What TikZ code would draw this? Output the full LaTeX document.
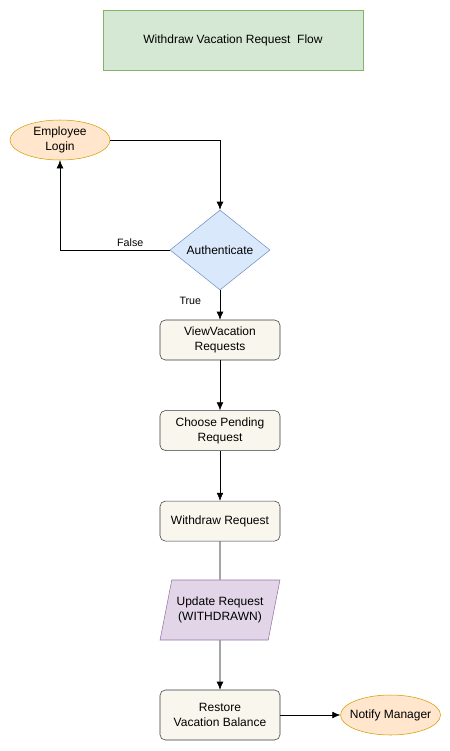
\documentclass[tikz,border=0pt]{standalone}
\usepackage{fontspec}
\setmainfont{Liberation Sans}
\usepackage{tikz}
\usetikzlibrary{shapes,arrows.meta,calc,positioning}
\definecolor{titlefill}{HTML}{D5E8D4}
\definecolor{titleline}{HTML}{82B366}
\definecolor{startfill}{HTML}{FFE6CC}
\definecolor{startline}{HTML}{D79B00}
\definecolor{decfill}{HTML}{DAE8FC}
\definecolor{decline}{HTML}{6C8EBF}
\definecolor{procfill}{HTML}{F9F7ED}
\definecolor{procline}{HTML}{36393D}
\definecolor{iofill}{HTML}{E1D5E7}
\definecolor{ioline}{HTML}{9673A6}
\tikzset{
    -{Latex[length=6pt,width=5pt]},x=0.75pt,y=-0.75pt,line width=0.75pt,
    node distance = 37.5pt and 45pt,
    font=\fontsize{9}{11.25}\selectfont,
    title/.style ={rectangle, draw=titleline, fill=titlefill, minimum width=195pt, minimum height=45pt},
    start/.style ={ellipse, draw=startline, fill=startfill, inner sep=0pt, minimum width=75pt, minimum height=30pt, align=center},
    decision/.style ={diamond, draw=decline, fill=decfill, inner sep=0pt, minimum width=75pt, minimum height=60pt},
    proc/.style ={rectangle, rounded corners=4pt, draw=procline, fill=procfill, minimum width=90pt, minimum height=30pt, align=center},
    io/.style ={trapezium, trapezium left angle=71.6, trapezium right angle=108.4, trapezium stretches=true, draw=ioline, fill=iofill, minimum width=90pt, minimum height=45pt, align=center},
    el/.style = {font=\fontsize{8}{10}\selectfont, inner sep=2pt}
}
\begin{document}
\begin{tikzpicture}
    \useasboundingbox (0,0) rectangle (450,751);
    \node[title] (0) at (233,40) {Withdraw Vacation Request\ \ Flow};
    \node[start] (1) at (60,140) {Employee\\Login};
    \node[decision] (2) at (220,250) {Authenticate};
    \node[proc] (3) at (220,340) {ViewVacation\\Requests};
    \node[proc] (4) [below = of 3] {Choose Pending\\Request};
    \node[proc] (5) [below = of 4] {Withdraw Request};
    \node[io] (6) at (220,610) {Update Request\\(WITHDRAWN)};
    \node[proc, minimum height=37.5pt] (7) at (220,715) {Restore\\Vacation Balance};
    \node[start, inner xsep=-6pt] (8) [right = of 7] {Notify Manager};

    \draw (1) -| (2);
    \draw (2) -| node[el, pos=0.18, above] {False} (1);
    \draw (2) -- node[el, left=12pt, pos=0.35] {True} (3);
    \draw (3) -- (4);
    \draw (4) -- (5);
    \draw[-] (5) -- (6);
    \draw (6) -- (7);
    \draw (7) -- (8);
\end{tikzpicture}
\end{document}
